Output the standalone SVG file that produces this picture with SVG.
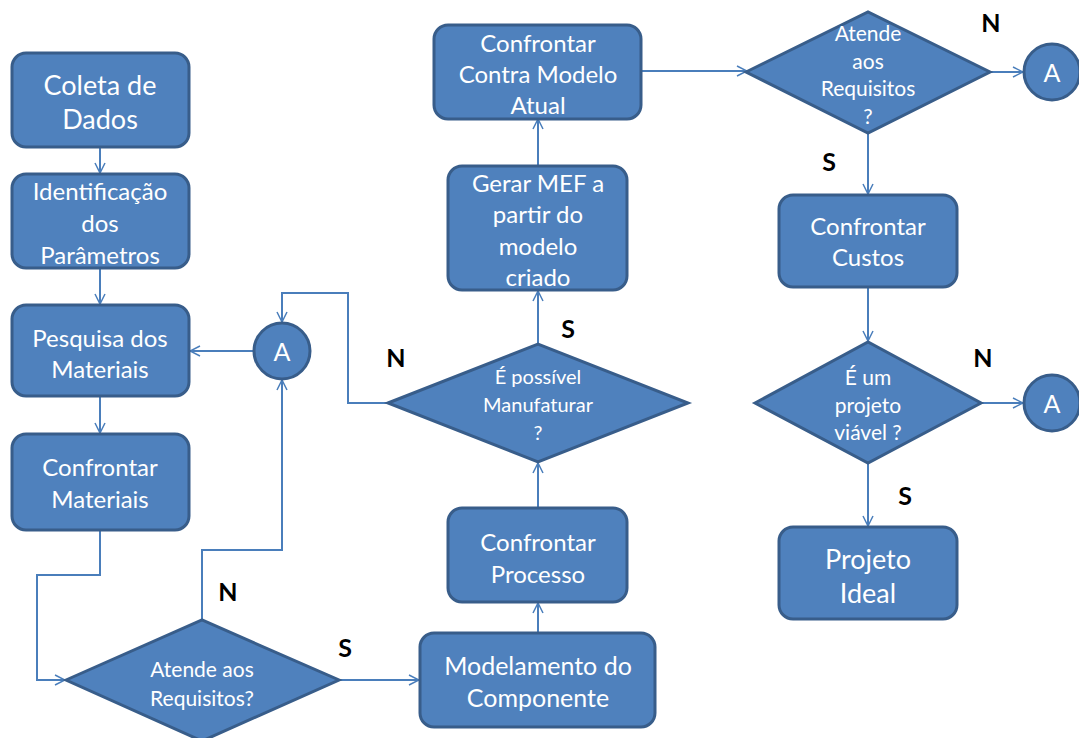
<svg xmlns="http://www.w3.org/2000/svg" width="1079" height="738" viewBox="0 0 1079 738">
<style>
.n{fill:#4F81BD;stroke:#385D8A;stroke-width:3}
.t{fill:#fff;font-family:Lato,"Open Sans",sans-serif;text-anchor:middle;dominant-baseline:central}
.c{fill:none;stroke:#4A7EBB;stroke-width:2}
.l{fill:#000;font-family:Lato,"Liberation Sans",sans-serif;font-weight:bold;font-size:25px;text-anchor:middle;dominant-baseline:central}
</style>
<defs>
<marker id="a" viewBox="0 0 12 12" refX="11" refY="6" markerWidth="12" markerHeight="12" markerUnits="userSpaceOnUse" orient="auto">
<path d="M1,1 L11,6 L1,11" fill="none" stroke="#4A7EBB" stroke-width="1.5"/>
</marker>
</defs>
<rect width="1079" height="738" fill="#fff"/>
<g id="connectors" class="c" marker-end="url(#a)">
<path d="M100,147 V173"/>
<path d="M100,268 V304"/>
<path d="M100,396 V433"/>
<path d="M100,530 V575 H37 V680 H65"/>
<path d="M202,620 V550 H282 V380"/>
<path d="M254,351 H190"/>
<path d="M339,680 H419"/>
<path d="M538,633 V603"/>
<path d="M538,508 V463"/>
<path d="M388,403 H348 V293 H282 V322"/>
<path d="M538,344 V291"/>
<path d="M538,166 V119"/>
<path d="M641,71 H747"/>
<path d="M990,72 H1023"/>
<path d="M868,133 V194"/>
<path d="M868,287 V341"/>
<path d="M982,403 H1023"/>
<path d="M868,463 V526"/>
</g>
<g id="coleta"><rect class="n" x="12" y="53" width="177" height="94" rx="14"/><text class="t" font-size="27"><tspan x="100" y="84">Coleta de</tspan><tspan x="100" y="118">Dados</tspan></text></g>
<g id="identificacao"><rect class="n" x="12" y="174" width="177" height="94" rx="14"/><text class="t" font-size="24"><tspan x="100" y="190">Identificação</tspan><tspan x="100" y="222">dos</tspan><tspan x="100" y="254">Parâmetros</tspan></text></g>
<g id="pesquisa"><rect class="n" x="12" y="305" width="177" height="91" rx="14"/><text class="t" font-size="24"><tspan x="100" y="337">Pesquisa dos</tspan><tspan x="100" y="368">Materiais</tspan></text></g>
<g id="confrontarMateriais"><rect class="n" x="12" y="434" width="177" height="96" rx="14"/><text class="t" font-size="24"><tspan x="100" y="466">Confrontar</tspan><tspan x="100" y="498">Materiais</tspan></text></g>
<g id="conectorA1"><circle class="n" cx="282" cy="351" r="28"/><text class="t" font-size="25" x="282" y="351">A</text></g>
<g id="atende1"><polygon class="n" points="66,680 202,620 339,680 202,741"/><text class="t" font-size="21"><tspan x="202" y="668">Atende aos</tspan><tspan x="202" y="697">Requisitos?</tspan></text></g>
<g id="modelamento"><rect class="n" x="420" y="633" width="235" height="94" rx="14"/><text class="t" font-size="25"><tspan x="538" y="665">Modelamento do</tspan><tspan x="538" y="697">Componente</tspan></text></g>
<g id="confrontarProcesso"><rect class="n" x="448" y="508" width="179" height="94" rx="14"/><text class="t" font-size="24"><tspan x="538" y="541">Confrontar</tspan><tspan x="538" y="573">Processo</tspan></text></g>
<g id="manufaturar"><polygon class="n" points="388,403 538,344 688,403 538,462"/><text class="t" font-size="20"><tspan x="538" y="376">É possível</tspan><tspan x="538" y="404">Manufaturar</tspan><tspan x="538" y="432">?</tspan></text></g>
<g id="gerarMEF"><rect class="n" x="448" y="166" width="179" height="124" rx="14"/><text class="t" font-size="24"><tspan x="538" y="182">Gerar MEF a</tspan><tspan x="538" y="213">partir do</tspan><tspan x="538" y="245">modelo</tspan><tspan x="538" y="276">criado</tspan></text></g>
<g id="confrontarModelo"><rect class="n" x="434" y="25" width="207" height="94" rx="14"/><text class="t" font-size="24"><tspan x="538" y="42">Confrontar</tspan><tspan x="538" y="73">Contra Modelo</tspan><tspan x="538" y="104">Atual</tspan></text></g>
<g id="atende2"><polygon class="n" points="746,72 868,12 990,72 868,133"/><text class="t" font-size="21"><tspan x="868" y="32">Atende</tspan><tspan x="868" y="60">aos</tspan><tspan x="868" y="87">Requisitos</tspan><tspan x="868" y="115">?</tspan></text></g>
<g id="conectorA2"><circle class="n" cx="1052" cy="72" r="28"/><text class="t" font-size="25" x="1052" y="72">A</text></g>
<g id="confrontarCustos"><rect class="n" x="779" y="195" width="178" height="92" rx="14"/><text class="t" font-size="24"><tspan x="868" y="225">Confrontar</tspan><tspan x="868" y="256">Custos</tspan></text></g>
<g id="viavel"><polygon class="n" points="755,403 868,342 981,403 868,463"/><text class="t" font-size="21"><tspan x="868" y="376">É um</tspan><tspan x="868" y="404">projeto</tspan><tspan x="868" y="431">viável ?</tspan></text></g>
<g id="conectorA3"><circle class="n" cx="1052" cy="403" r="28"/><text class="t" font-size="25" x="1052" y="403">A</text></g>
<g id="projetoIdeal"><rect class="n" x="779" y="527" width="178" height="92" rx="14"/><text class="t" font-size="27"><tspan x="868" y="558">Projeto</tspan><tspan x="868" y="592">Ideal</tspan></text></g>
<g id="labels">
<text class="l" x="228" y="591">N</text>
<text class="l" x="345" y="647">S</text>
<text class="l" x="396" y="357">N</text>
<text class="l" x="568" y="328">S</text>
<text class="l" x="991" y="22">N</text>
<text class="l" x="829" y="161">S</text>
<text class="l" x="983" y="357">N</text>
<text class="l" x="905" y="495">S</text>
</g>
</svg>
